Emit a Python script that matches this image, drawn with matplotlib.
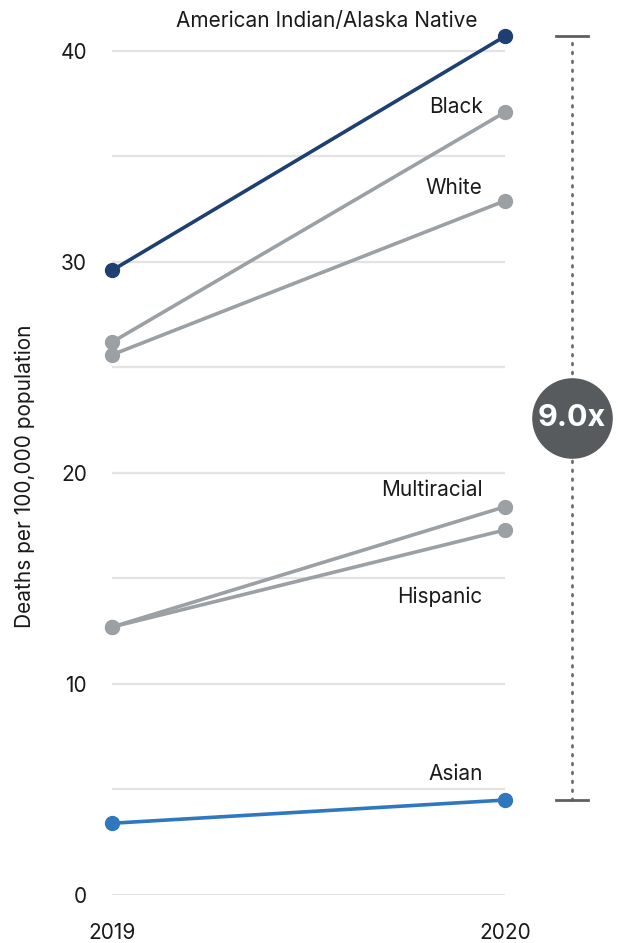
import matplotlib
matplotlib.use("Agg")
import matplotlib.pyplot as plt

plt.rcParams['font.family'] = ['Inter', 'DejaVu Sans']

years = [2019, 2020]
groups = ["American Indian/Alaska Native", "Black", "White", "Multiracial", "Hispanic", "Asian"]
rate_2019 = [29.6, 26.2, 25.6, 12.7, 12.7, 3.4]
rate_2020 = [40.7, 37.1, 32.9, 18.4, 17.3, 4.5]
colors = ["#1e3f72", "#9ba0a5", "#9ba0a5", "#9ba0a5", "#9ba0a5", "#2f78c0"]
# label offsets (points) relative to the 2020 point
label_offsets = [(-20, 11), (-16, 4), (-16, 9), (-16, 12), (-16, -48), (-16, 19)]
yticks = [0, 10, 20, 30, 40]
grid_levels = [0, 5, 10, 15, 20, 25, 30, 35, 40]

fig = plt.figure(figsize=(6.18, 9.43), dpi=100)
ax = fig.add_axes([112 / 618, 1 - 895 / 943, (505 - 112) / 618, 0.9398])
ax.set_xlim(2019, 2020)
ax.set_ylim(0, 42)

for g in grid_levels:
    ax.axhline(g, color="#e3e3e3", lw=1.6, zorder=0, xmin=-0.005)

for name, a, b, c, off in zip(groups, rate_2019, rate_2020, colors, label_offsets):
    z = 3 if c != "#9ba0a5" else 2
    ax.plot(years, [a, b], color=c, lw=2.6, marker="o", ms=10, clip_on=False, zorder=z,
            solid_capstyle="round")
    ax.annotate(name, (years[1], b), xytext=off, textcoords="offset points",
                ha="right", va="center", fontsize=15, color="#1a1a1a")

for s in ax.spines.values():
    s.set_visible(False)
ax.set_yticks(yticks)
ax.set_yticklabels([str(t) for t in yticks], fontsize=15, color="#1a1a1a")
ax.tick_params(axis="y", length=0, pad=18)
ax.set_xticks(years)
ax.set_xticklabels([str(y) for y in years], fontsize=15, color="#1a1a1a")
ax.tick_params(axis="x", length=0, pad=20)
ax.set_ylabel("Deaths per 100,000 population", fontsize=15, color="#1a1a1a")
ax.yaxis.set_label_coords(-0.195, 0.472)

# ratio bracket between highest and lowest 2020 rates
hi, lo = max(rate_2020), min(rate_2020)
bx = 2020 + (572 - 505) / 393
cap = 16 / 393
ax.plot([bx, bx], [lo, hi], color="#6b6e70", lw=2, ls=(0, (0.6, 2.6)),
        dash_capstyle="round", clip_on=False, zorder=1)
for v in (lo, hi):
    ax.plot([bx - cap, bx + cap], [v, v], color="#5c6062", lw=2, clip_on=False)
mid = (hi + lo) / 2
ax.plot([bx], [mid], marker="o", ms=57, color="#575b5d", mec="#575b5d", clip_on=False, zorder=5)
ax.text(bx, mid, f"{hi / lo:.1f}x", ha="center", va="center", color="white",
        fontsize=22, fontweight="bold", zorder=6)

fig.savefig("out.png", dpi=100)
